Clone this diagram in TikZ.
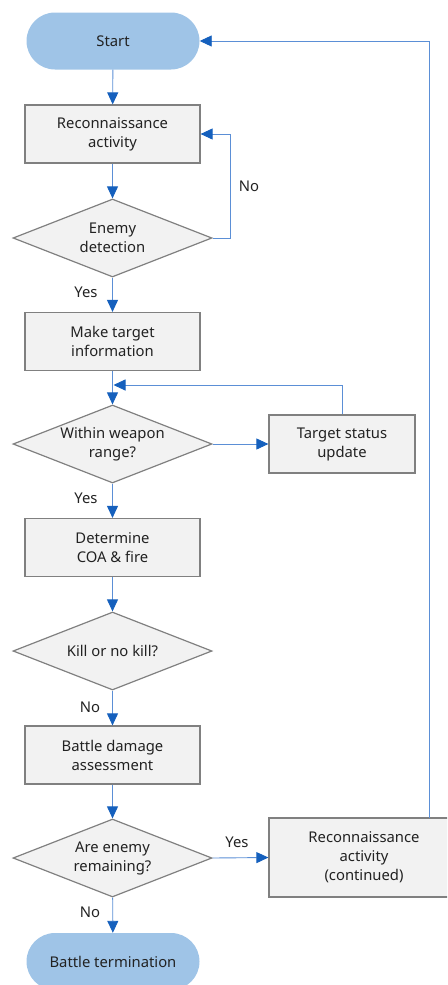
\documentclass[tikz,border=0pt]{standalone}
\usepackage{fontspec}
\setmainfont{Noto Sans}
\usetikzlibrary{shapes.geometric,shapes.misc,arrows.meta}
\definecolor{termblue}{HTML}{9FC4E7}
\definecolor{boxfill}{HTML}{F2F2F2}
\definecolor{boxline}{HTML}{808080}
\definecolor{lineblue}{HTML}{5B8FD6}
\definecolor{headblue}{HTML}{1560BD}
\definecolor{txt}{HTML}{222222}
\begin{document}
\begin{tikzpicture}[x=1pt,y=-1pt,
  every node/.style={font=\fontsize{14.8}{19}\selectfont, text=txt, align=center},
  term/.style={rounded rectangle, fill=termblue, draw=none, minimum width=173pt, minimum height=57pt, inner sep=0pt},
  procbox/.style={rectangle, fill=boxfill, draw=boxline, line width=1.2pt, minimum width=175pt, minimum height=58pt, inner sep=0pt},
  decision/.style={diamond, fill=boxfill, draw=boxline, line width=1.2pt, minimum width=199pt, minimum height=78pt, aspect=2.55, inner sep=0pt},
  flow/.style={draw=lineblue, line width=0.9pt, -{Triangle[length=12pt,width=11pt,color=headblue]}},
  lbl/.style={font=\fontsize{14.8}{19}\selectfont}
]
\useasboundingbox (0,0) rectangle (447,985);
\begin{scope}
\clip (0,0) rectangle (447,985);
\node[term] (start) at (113,41) {Start};
\node[procbox] (recon) at (112.5,134) {Reconnaissance\\activity};
\node[decision] (detect) at (112.5,238) {Enemy\\detection};
\node[procbox] (make) at (112.5,341.5) {Make target\\information};
\node[decision] (range) at (112.5,444) {Within weapon\\range?};
\node[procbox, minimum width=146pt] (status) at (342,444) {Target status\\update};
\node[procbox] (coa) at (112.5,547.5) {Determine\\COA \& fire};
\node[decision] (kill) at (112.5,651) {Kill or no kill?};
\node[procbox] (bda) at (112.5,755) {Battle damage\\assessment};
\node[decision] (remain) at (112.5,858) {Are enemy\\remaining?};
\node[procbox, minimum width=190pt, minimum height=79pt] (cont) at (364,857.5) {Reconnaissance\\activity\\(continued)};
\node[term] (term) at (113,961.5) {Battle termination};

\coordinate (merge) at (112.5,385);

\draw[flow] (start) -- (recon);
\draw[flow] (recon) -- (detect);
\draw[flow] (detect.east) -- (230,238) |- (recon.east);
\draw[flow] (detect) -- (make);
\draw[flow] (make) -- (range);
\draw[flow] (status.north) |- ([xshift=1pt]merge);
\draw[flow] (range.east) -- (status.west);
\draw[flow] (range) -- (coa);
\draw[flow] (coa) -- (kill);
\draw[flow] (kill) -- (bda);
\draw[flow] (bda) -- (remain);
\draw[flow] (remain.east) -- (cont.west);
\draw[flow] (remain) -- (term);
\draw[flow] (429,818) -- (429,41) -- (start.east);

\node[lbl] (lno1) at (249,186) {No};
\node[lbl] (lyes1) at (86,292) {Yes};
\node[lbl] (lyes2) at (86,498) {Yes};
\node[lbl] (lno2) at (90,707) {No};
\node[lbl] (lyes3) at (237,842) {Yes};
\node[lbl] (lno3) at (90,912) {No};
\end{scope}
\end{tikzpicture}
\end{document}
